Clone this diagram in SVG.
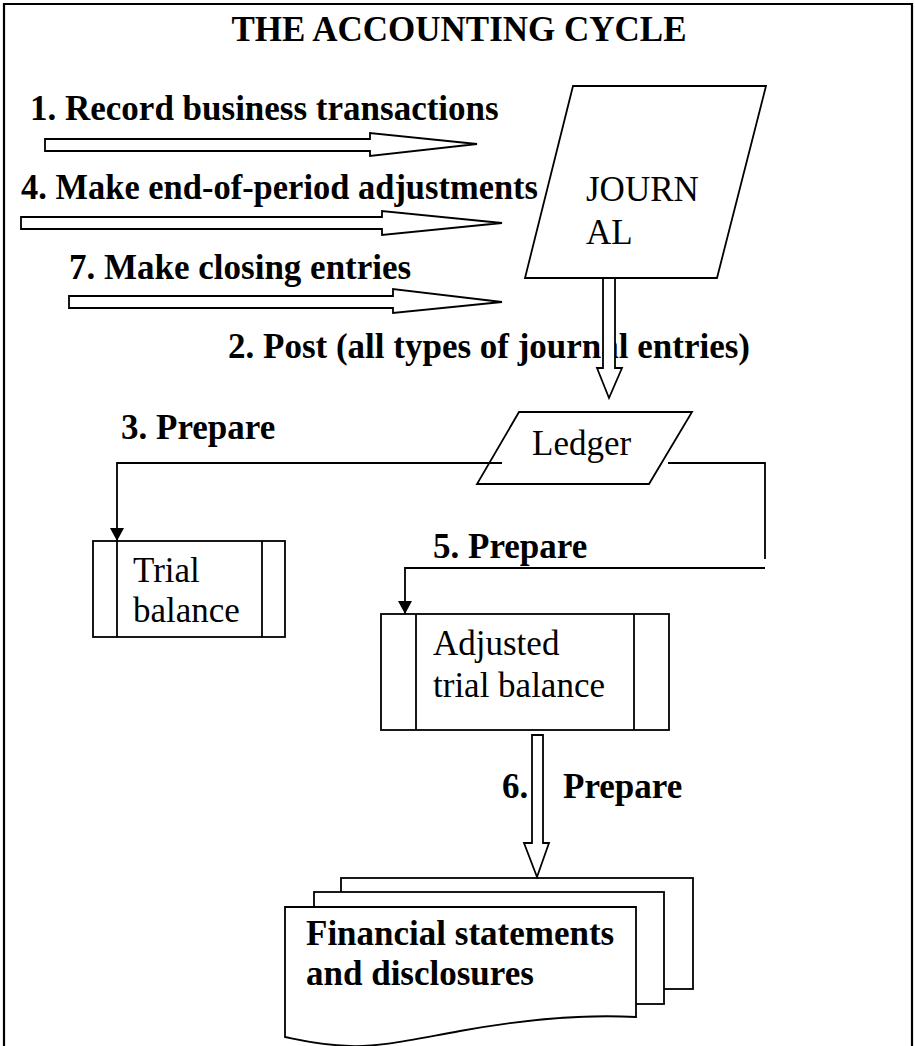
<svg xmlns="http://www.w3.org/2000/svg" width="915" height="1046" viewBox="0 0 915 1046">
<style>
.b{font-family:"Liberation Serif","Times New Roman",serif;font-weight:bold;font-size:35px;fill:#000}
.r{font-family:"Liberation Serif","Times New Roman",serif;font-size:35px;fill:#000}
.s{fill:#fff;stroke:#000;stroke-width:1.8;stroke-linejoin:miter}
.l{fill:none;stroke:#000;stroke-width:1.8}
</style>
<defs>
<marker id="ah" markerWidth="14" markerHeight="14" viewBox="0 0 14 14" refX="13" refY="7" orient="auto" markerUnits="userSpaceOnUse">
<path d="M0,0 L13,7 L0,14 Z" fill="#000"/>
</marker>
</defs>
<rect width="915" height="1046" fill="#fff"/>
<path d="M4,1046 V4 H912 V1046" fill="none" stroke="#000" stroke-width="2.2"/>
<text class="b" x="459" y="41" text-anchor="middle">THE ACCOUNTING CYCLE</text>

<g id="labels">
<text class="b" x="30" y="120">1. Record business transactions</text>
<text class="b" x="21" y="199" textLength="517" lengthAdjust="spacingAndGlyphs">4. Make end-of-period adjustments</text>
<text class="b" x="69" y="279">7. Make closing entries</text>
<text class="b" x="228" y="358">2. Post (all types of journal entries)</text>
<text class="b" x="121" y="439">3. Prepare</text>
<text class="b" x="433" y="558">5. Prepare</text>
<text class="b" x="502" y="798">6.</text>
<text class="b" x="563" y="798">Prepare</text>
</g>

<g id="journal">
<polygon class="s" points="573,86 766,86 717,278 525,278"/>
<text class="r" x="586" y="201">JOURN</text>
<text class="r" x="586" y="244">AL</text>
</g>

<g id="ledger">
<polygon class="s" points="519,412 692,412 649,484 477,484"/>
<text class="r" x="532" y="455">Ledger</text>
</g>

<g id="trial-balance">
<rect class="s" x="93" y="541" width="192" height="96"/>
<line class="l" x1="117" y1="541" x2="117" y2="637"/>
<line class="l" x1="262" y1="541" x2="262" y2="637"/>
<text class="r" x="133" y="582">Trial</text>
<text class="r" x="133" y="622">balance</text>
</g>

<g id="adjusted-trial-balance">
<rect class="s" x="381" y="614" width="288" height="116"/>
<line class="l" x1="416" y1="614" x2="416" y2="730"/>
<line class="l" x1="634" y1="614" x2="634" y2="730"/>
<text class="r" x="433" y="655">Adjusted</text>
<text class="r" x="433" y="697">trial balance</text>
</g>

<g id="financial-statements">
<rect class="s" x="341" y="878" width="352" height="111"/>
<rect class="s" x="314" y="892" width="350" height="112"/>
<path class="s" d="M285,907 H636 V1017 C580,1014 520,1020 460,1031 C410,1040 380,1047 350,1046 C320,1045 300,1040 285,1037 Z"/>
<text class="b" x="306" y="945">Financial statements</text>
<text class="b" x="306" y="985">and disclosures</text>
</g>

<g id="connectors">
<polygon class="s" points="45,139 370,139 370,133 477,144 370,156 370,151 45,151"/>
<polygon class="s" points="21,217 382,217 382,211 502,223 382,235 382,229 21,229"/>
<polygon class="s" points="69,296 393,296 393,289 502,302 393,313 393,308 69,308"/>
<polygon class="s" points="603,278 615,278 615,368 622,368 609,398 597,368 603,368"/>
<polygon class="s" points="532,735 543,735 543,843 549,843 537,877 524,843 532,843"/>
<path class="l" d="M502,463 H117 V541" marker-end="url(#ah)"/>
<path class="l" d="M668,463 H765 V559"/>
<path class="l" d="M765,568 H405 V614" marker-end="url(#ah)"/>
</g>
</svg>
